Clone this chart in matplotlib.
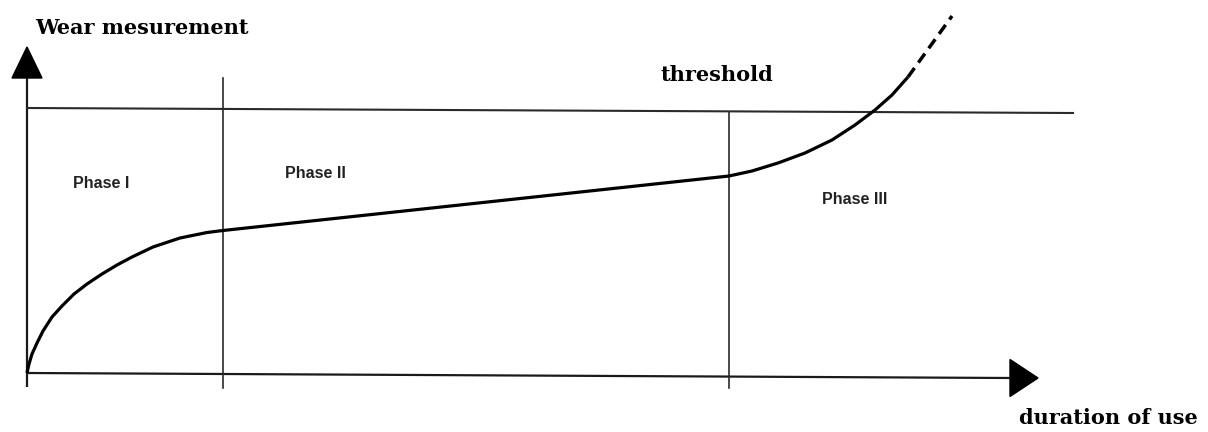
import matplotlib.pyplot as plt

# wear curve (time, wear), origin at axes corner
phase1_t = [0, 2, 5, 10, 16, 25, 35, 47, 60, 75, 90, 105, 126, 153, 180, 196]
phase1_w = [0, 9, 19, 30, 42, 56, 67, 79, 89, 99, 108, 116, 126, 135, 140.5, 142.5]
phase2_t = [196, 702]
phase2_w = [142.5, 197]
phase3_t = [702, 725, 751, 778, 805, 828, 848, 865, 881]
phase3_w = [197, 202, 210, 220, 233, 248, 263, 278, 296]
future_t = [881, 925]
future_w = [296, 357]

threshold_t = [0, 1046]
threshold_w = [265, 260]

bounds_t = [196, 702]
bounds_top = [295, 261]
bounds_bottom = -15

xaxis_t = [0, 983]
xaxis_w = [0, -5]
yaxis_w = [-14, 295]

phase_labels = ["Phase I", "Phase II", "Phase III"]
phase_label_t = [46, 258, 795]
phase_label_w = [189, 199, 173]

fig = plt.figure(figsize=(12.08, 4.32), dpi=100)
ax = fig.add_axes([0, 0, 1, 1])
ax.set_xlim(-27, 1181)
ax.set_ylim(-59, 373)
ax.axis("off")

line_col = "#1a1a1a"

# axes with arrow heads
ax.plot([0, 0], yaxis_w, color=line_col, lw=1.6, solid_capstyle="butt")
ax.fill([-15, 15, 0], [yaxis_w[1], yaxis_w[1], yaxis_w[1] + 31], color="black")
ax.plot(xaxis_t, xaxis_w, color=line_col, lw=1.6, solid_capstyle="butt")
xe, we = xaxis_t[1], xaxis_w[1]
ax.fill([xe, xe, xe + 28], [we - 18.5, we + 18.5, we], color="black")

# threshold and phase boundaries
ax.plot(threshold_t, threshold_w, color="#2a2a2a", lw=1.5)
for t, top in zip(bounds_t, bounds_top):
    ax.plot([t, t], [bounds_bottom, top], color="#2a2a2a", lw=1.2)

# wear curve
ax.plot(phase1_t + phase2_t[1:] + phase3_t[1:], phase1_w + phase2_w[1:] + phase3_w[1:],
        color="black", lw=2.3, solid_joinstyle="round", solid_capstyle="butt")
ax.plot(future_t, future_w, color="black", lw=2.5, dashes=(3.2, 1.9), dash_capstyle="butt")

serif = dict(family="DejaVu Serif", weight="bold", color="black")
ax.text(8, 345, "Wear mesurement", ha="left", va="center", fontsize=15, **serif)
ax.text(690, 298, "threshold", ha="center", va="center", fontsize=15, **serif)
ax.text(1171, -45, "duration of use", ha="right", va="center", fontsize=15, **serif)

for lab, t, w in zip(phase_labels, phase_label_t, phase_label_w):
    ax.text(t, w, lab, ha="left", va="center", fontsize=11.5,
            family="Liberation Sans", weight="bold", color="#222222")

fig.savefig("out.png", dpi=100)
